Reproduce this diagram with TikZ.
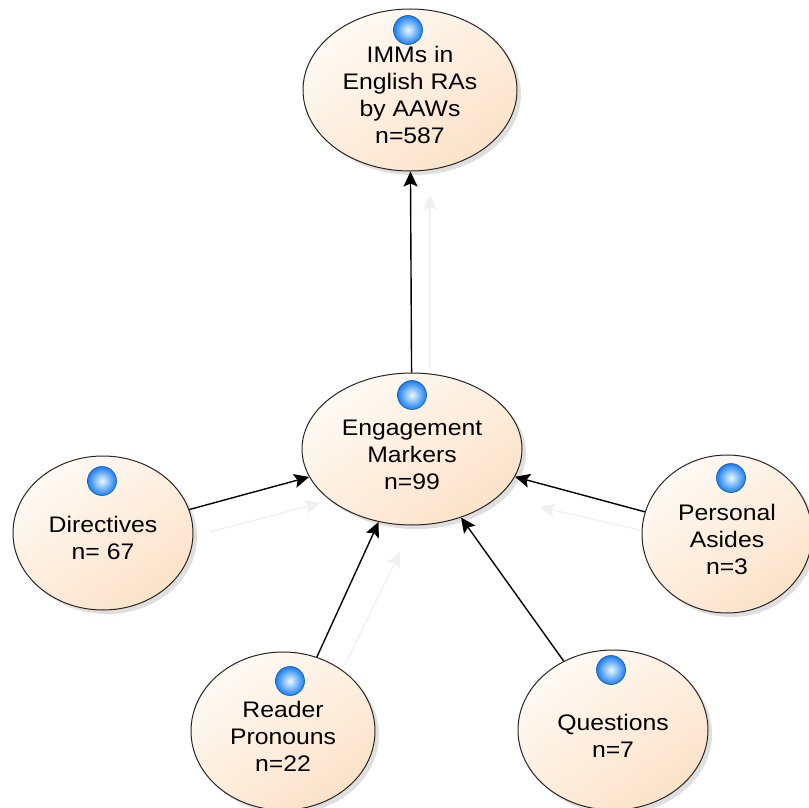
\documentclass[tikz,border=0pt]{standalone}
\usepackage{fontspec}
\setmainfont[FakeStretch=1.1]{Liberation Sans}
\usetikzlibrary{arrows.meta,shapes.geometric,shadows}
\definecolor{peachhi}{RGB}{255,250,244}
\definecolor{peachlo}{RGB}{252,226,200}
\definecolor{ballblue}{RGB}{25,125,240}
\definecolor{ballhi}{RGB}{235,250,255}

\begin{document}
\begin{tikzpicture}[x=1pt,y=-1pt,>={Stealth[length=15pt,width=14pt,inset=3pt]},
  bubble/.style={ellipse,draw=black!85,line width=1pt,inner sep=0pt,align=center,
    top color=peachhi,bottom color=peachlo,shading angle=35,
    font=\fontsize{22.5}{27}\selectfont,
    drop shadow={shadow xshift=4pt,shadow yshift=-4pt,opacity=.25}},
  dot/.style={inner color=ballhi,outer color=ballblue,draw=ballblue!70!black,line width=.6pt},
  link/.style={->,line width=1.4pt,black},
  ghost/.style={->,line width=1.2pt,black!6}]
  \useasboundingbox (0,0) rectangle (809,808);
  % ghost connectors
  \draw[ghost] (430,368)--(430,195);
  \draw[ghost] (210,532)--(320,503);
  \draw[ghost] (640,530)--(540,507);
  \draw[ghost] (345,665)--(400,552);
  % nodes
  \node[bubble,minimum width=214pt,minimum height=162pt] (imms) at (410,90)
    {\\IMMs in\\English RAs\\by AAWs\\n=587};
  \node[bubble,minimum width=220pt,minimum height=152pt] (engage) at (412,449)
    {\\Engagement\\Markers\\n=99};
  \node[bubble,minimum width=180pt,minimum height=154pt] (direct) at (103,533)
    {\\Directives\\n= 67};
  \node[bubble,minimum width=170pt,minimum height=158pt] (aside) at (727,534)
    {\\Personal\\Asides\\n=3};
  \node[bubble,minimum width=184pt,minimum height=158pt] (pronoun) at (283,731)
    {\\Reader\\Pronouns\\n=22};
  \node[bubble,minimum width=190pt,minimum height=160pt] (quest) at (613,730)
    {\\Questions\\n=7};
  % spheres
  \foreach \n/\x/\y in {imms/408/30,engage/412/395,direct/102/481,aside/731/478,pronoun/290/681,quest/611/670}
    \shade[dot] (\x,\y) circle (14.5pt);
  % connectors
  \draw[link] (engage)--(imms);
  \draw[link] (direct)--(engage);
  \draw[link] (aside)--(engage);
  \draw[link] (pronoun)--(engage);
  \draw[link] (quest)--(engage);
\end{tikzpicture}
\end{document}
